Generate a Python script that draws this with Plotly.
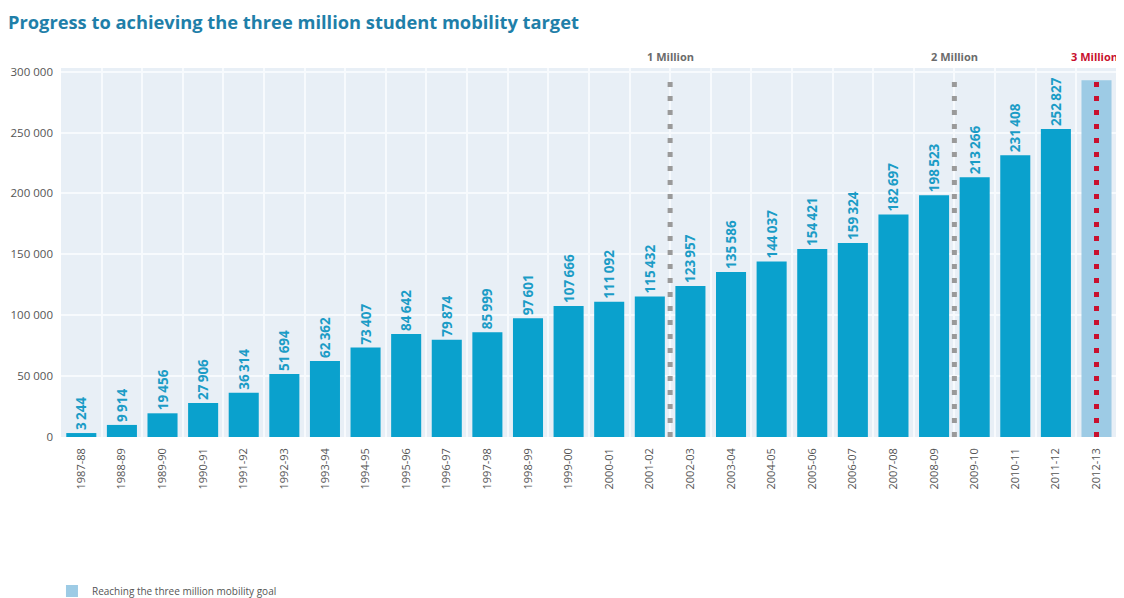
import plotly.graph_objects as go

years = ["1987-88", "1988-89", "1989-90", "1990-91", "1991-92", "1992-93", "1993-94",
         "1994-95", "1995-96", "1996-97", "1997-98", "1998-99", "1999-00", "2000-01",
         "2001-02", "2002-03", "2003-04", "2004-05", "2005-06", "2006-07", "2007-08",
         "2008-09", "2009-10", "2010-11", "2011-12"]
students = [3244, 9914, 19456, 27906, 36314, 51694, 62362, 73407, 84642, 79874, 85999,
            97601, 107666, 111092, 115432, 123957, 135586, 144037, 154421, 159324,
            182697, 198523, 213266, 231408, 252827]
goal_year = ["2012-13"]
goal_value = [293000]
goal_name = "Reaching the three million mobility goal"

milestone_labels = ["1 Million", "2 Million", "3 Million"]
milestone_pos = [14.5, 21.5, 25]
milestone_colors = ["#9a9a9a", "#9a9a9a", "#c8102e"]
milestone_text_colors = ["#6b6b6b", "#6b6b6b", "#c8102e"]
milestone_shift = [0, 0, -2]

ytickvals = [0, 50000, 100000, 150000, 200000, 250000, 300000]
yticktext = ["0", "50 000", "100 000", "150 000", "200 000", "250 000", "300 000"]

def fmt(v):
    return f"{v:,}".replace(",", "\u2009")

fig = go.Figure()
fig.add_trace(go.Bar(
    x=years, y=students, text=[fmt(v) for v in students],
    textposition="outside", textangle=-90,
    textfont=dict(family="Open Sans", size=13.5, color="#1b9cc6", weight="bold"),
    marker=dict(color="#0aa1cd", line=dict(width=0)),
    cliponaxis=False, showlegend=False, name="Students",
))
fig.add_trace(go.Bar(
    x=goal_year, y=goal_value, name=goal_name,
    marker=dict(color="#9dcbe5", line=dict(width=0)),
    showlegend=True,
))

for lab, pos, col, tcol, sh in zip(milestone_labels, milestone_pos, milestone_colors,
                                   milestone_text_colors, milestone_shift):
    fig.add_shape(type="line", xref="x", yref="paper", x0=pos, x1=pos, y0=0, y1=0.98,
                  line=dict(color=col, width=5, dash="5px,9px"), layer="above")
    fig.add_annotation(x=pos, xref="x", y=1.0, yref="paper", yanchor="bottom",
                       text=f"<b>{lab}</b>", showarrow=False, yshift=2, xshift=sh,
                       font=dict(family="Open Sans", size=11, color=tcol))

fig.update_layout(
    width=1116, height=590,
    margin=dict(l=53, r=4, t=60, b=161),
    paper_bgcolor="white", plot_bgcolor="#e8eff6",
    barmode="overlay", bargap=0.26,
    uniformtext=dict(minsize=13.5, mode="show"),
    title=dict(text="<b>Progress to achieving the three million student mobility target</b>",
               x=0.0, xanchor="left", y=0.976, yanchor="middle",
               font=dict(family="Open Sans", size=18.3, color="#1f7fa9")),
    font=dict(family="Open Sans", color="#555555"),
    xaxis=dict(type="category", categoryorder="array", categoryarray=years + goal_year,
               tickangle=-90, tickfont=dict(size=11, color="#555555"),
               showgrid=True, gridcolor="#f7fafd", gridwidth=1.5, tickson="boundaries",
               ticks="", showline=False, zeroline=False, automargin=False,
               ticklabelstandoff=8),
    yaxis=dict(range=[0, 303000], tickvals=ytickvals, ticktext=yticktext,
               tickfont=dict(size=11.5, color="#555555"),
               showgrid=True, gridcolor="#f7fafd", gridwidth=1.5, zeroline=False,
               ticks="", ticklabelstandoff=7, automargin=False),
    legend=dict(xref="container", yref="container", x=0.0394, xanchor="left",
                y=0.012, yanchor="middle", orientation="h",
                font=dict(size=10, color="#555555"), bgcolor="rgba(0,0,0,0)"),
)

fig.write_html("out.html")
